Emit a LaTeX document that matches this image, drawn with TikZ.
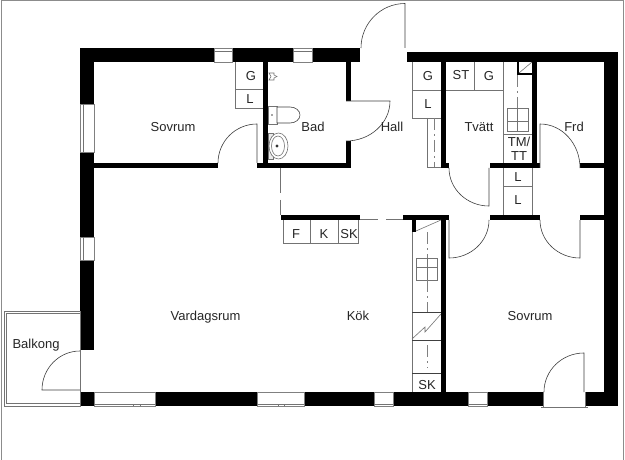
\documentclass[tikz,border=0pt]{standalone}
\usepackage{fontspec}
\setmainfont{Liberation Sans}
\tikzset{
	wall/.style={fill=black},
	thinline/.style={draw=black!75, line width=0.6pt},
	fixture/.style={draw=black!55, line width=0.6pt},
	centerline/.style={draw=black!50, line width=0.5pt, dash pattern=on 12pt off 4pt on 2pt off 4pt},
	glass/.style={draw=black!50, line width=0.5pt, fill=white},
	label/.style={font=\fontsize{13}{13}\selectfont, text=black!85, inner sep=0pt}
}
\begin{document}
\begin{tikzpicture}[x=1pt, y=-1pt]
	\useasboundingbox (0,0) rectangle (625,460);
	\fill[white] (0,0) rectangle (625,460);
	\draw[black!45, line width=1pt] (1,460) -- (1,0.5) -- (623.5,0.5) -- (623.5,460);

	% balkong
	\draw[fixture] (4,311) rectangle (80,406);
	\draw[fixture] (6.5,313.5) rectangle (80,403.5);

	% outer walls
	\fill[wall] (80,48) rectangle (214,62);
	\fill[wall] (232,48) rectangle (293,62);
	\fill[wall] (312,48) rectangle (360,62);
	\fill[wall] (407,52) rectangle (618,62);
	\fill[wall] (604,52) rectangle (618,406);
	\fill[wall] (80,48) rectangle (94,104);
	\fill[wall] (80,152) rectangle (94,237);
	\fill[wall] (80,260) rectangle (94,350);
	\fill[wall] (80,392) rectangle (94,406);
	\fill[wall] (155,392) rectangle (257,406);
	\fill[wall] (304,392) rectangle (374,406);
	\fill[wall] (393,392) rectangle (468,406);
	\fill[wall] (487,392) rectangle (543,406);
	\fill[wall] (585,392) rectangle (618,406);

	% inner walls
	\fill[wall] (94,163) rectangle (218,168);
	\fill[wall] (263,62) rectangle (268,163);
	\fill[wall] (257,163) rectangle (351,168);
	\fill[wall] (346,62) rectangle (351,101);
	\fill[wall] (346,141) rectangle (351,168);
	\fill[wall] (281,215) rectangle (360,220);
	\fill[wall] (403,215) rectangle (449,220);
	\fill[wall] (441,62) rectangle (446,167);
	\fill[wall] (441,163) rectangle (449,168);
	\fill[wall] (490,163) rectangle (540,168);
	\fill[wall] (580,163) rectangle (604,168);
	\fill[wall] (490,215) rectangle (540,220);
	\fill[wall] (580,215) rectangle (604,220);
	\fill[wall] (532,62) rectangle (537,168);
	\fill[wall] (441,220) rectangle (446,392);
	\fill[wall] (517,62) rectangle (519,75);
	\fill[wall] (517,73) rectangle (532,75);
	\fill[wall] (412,220) rectangle (416,232);

	% windows
	\draw[glass] (214,48) rectangle (232,62);
	\draw[fixture] (214,51) -- (232,51);
	\draw[glass] (293,48) rectangle (312,62);
	\draw[fixture] (293,51) -- (312,51);
	\draw[glass] (80,104) rectangle (94,152);
	\draw[fixture] (83,104) -- (83,152);
	\draw[glass] (80,237) rectangle (94,260);
	\draw[fixture] (83,237) -- (83,260);
	\draw[glass] (94,392) rectangle (155,406);
	\draw[fixture] (94,404) -- (155,404);
	\draw[fixture] (133,404) -- (133,406) (140,404) -- (140,406);
	\draw[glass] (257,392) rectangle (304,406);
	\draw[fixture] (257,404) -- (304,404);
	\draw[fixture] (278,404) -- (278,406) (284,404) -- (284,406);
	\draw[glass] (374,392) rectangle (393,406);
	\draw[fixture] (374,404) -- (393,404);
	\draw[glass] (468,392) rectangle (487,406);
	\draw[fixture] (468,404) -- (487,404);
	\draw[fixture, line width=1pt] (541,407.5) -- (588,407.5);
	\draw[fixture] (543,392) -- (543,407);
	\draw[fixture] (585,392) -- (585,407);

	% doors
	\draw[thinline] (218,163) arc (180:270:39) -- (257,163);
	\draw[thinline] (361,48) arc (180:270:44 and 44.5) -- (405,48);
	\draw[thinline] (346,101) -- (390,101) arc (0:90:44 and 40);
	\draw[thinline] (449,168) arc (180:90:40 and 38) -- (489,168);
	\draw[thinline] (580,168) arc (360:270:40 and 44) -- (540,168);
	\draw[thinline] (489,220) arc (0:90:40 and 38) -- (449,220);
	\draw[thinline] (540,220) arc (180:90:40 and 38) -- (580,220);
	\draw[thinline] (80,390) -- (42,390) arc (180:270:38 and 39);
	\draw[thinline] (584,392) -- (584,353) arc (270:180:40 and 39);
	\draw[fixture] (80,311) -- (80,406);

	% open room borders
	\draw[fixture] (280,168) -- (280,193);
	\draw[fixture] (280,200) -- (280,215);
	\draw[fixture] (360,219) -- (378,219);
	\draw[fixture] (386,219) -- (403,219);

	% cupboards
	\draw[fixture] (235,62) -- (235,108) -- (263,108);
	\draw[fixture] (235,89) -- (263,89);
	\draw[fixture] (283,220) -- (283,243) -- (358,243) -- (358,220);
	\draw[fixture] (310,220) -- (310,243);
	\draw[fixture] (338,220) -- (338,243);
	\draw[fixture] (412,62) -- (412,118) -- (441,118);
	\draw[fixture] (412,90) -- (441,90);
	\draw[fixture] (427,118) -- (427,167) -- (441,167);
	\draw[centerline] (434,118) -- (434,167);
	\draw[fixture] (446,90) -- (503,90);
	\draw[fixture] (474,62) -- (474,90);
	\draw[fixture] (503,62) -- (503,163);
	\draw[centerline] (517,75) -- (517,108);
	\draw[fixture] (507,108) rectangle (528,131);
	\draw[fixture] (517,108) -- (517,131);
	\draw[fixture] (507,121) -- (528,121);
	\draw[fixture] (503,134) -- (532,134);
	\draw[fixture] (519,73) -- (532,62);
	\draw[fixture] (503,168) -- (503,215);
	\draw[fixture] (532,168) -- (532,215);
	\draw[fixture] (503,186) -- (532,186);

	% kitchen counter
	\draw[fixture] (412,232) -- (412,392);
	\draw[fixture] (416,231) -- (441,220);
	\draw[centerline] (427,232) -- (427,258);
	\draw[fixture] (416,258) rectangle (437,280);
	\draw[fixture] (416,267) -- (437,267);
	\draw[fixture] (427,258) -- (427,280);
	\draw[centerline] (427,280) -- (427,312);
	\draw[thinline] (412,312) -- (441,312);
	\draw[thinline] (412,340) -- (441,340);
	\draw[fixture] (412,339) -- (425,327) -- (425,332) -- (441,314);
	\draw[centerline] (427,345) -- (427,368);
	\draw[thinline] (412,373) -- (441,373);

	% bad
	\draw[fixture, fill=white] (268,106) rectangle (277,124);
	\fill[black!70] (272,115) circle (0.8pt);
	\draw[thinline, fill=white] (277,107) -- (290,107) arc (270:450:10 and 8) -- (277,123) -- cycle;
	\draw[fixture, fill=black!8] (268,133) rectangle (273,159);
	\draw[fixture, fill=white] (278.5,146) ellipse (9.5 and 13);
	\draw[fixture] (278,146) ellipse (6.5 and 10);
	\fill[black!80] (277,146) circle (1.6pt);
	\draw[fixture] (269,73) -- (274,73) -- (274,75) -- (277,76.5) -- (274,78) -- (274,80) -- (269,80) -- (271,76.5) -- cycle;

	% labels
	\node[label] (sovrumA) at (173,127) {Sovrum};
	\node[label] (bad) at (313,127) {Bad};
	\node[label] (hall) at (392,127) {Hall};
	\node[label] (tvatt) at (479,127) {Tvätt};
	\node[label] (frd) at (574,127) {Frd};
	\node[label] (vardagsrum) at (205.5,317.5) {Vardagsrum};
	\node[label] (kok) at (358,316) {Kök};
	\node[label] (sovrumB) at (530,316) {Sovrum};
	\node[label] (balkong) at (36,345) {Balkong};
	\node[label] (tm) at (519,142) {TM/};
	\node[label] (tt) at (519,156) {TT};
	\node[label] (gA) at (251,76) {G};
	\node[label] (lA) at (250,99) {L};
	\node[label] (gB) at (428,76) {G};
	\node[label] (lB) at (428,104) {L};
	\node[label] (st) at (461,75) {ST};
	\node[label] (gC) at (489,76) {G};
	\node[label] (lC) at (518,177) {L};
	\node[label] (lD) at (518,200) {L};
	\node[label] (f) at (296,234) {F};
	\node[label] (k) at (324,234) {K};
	\node[label] (skA) at (349,234) {SK};
	\node[label] (skB) at (427,385) {SK};
\end{tikzpicture}
\end{document}
